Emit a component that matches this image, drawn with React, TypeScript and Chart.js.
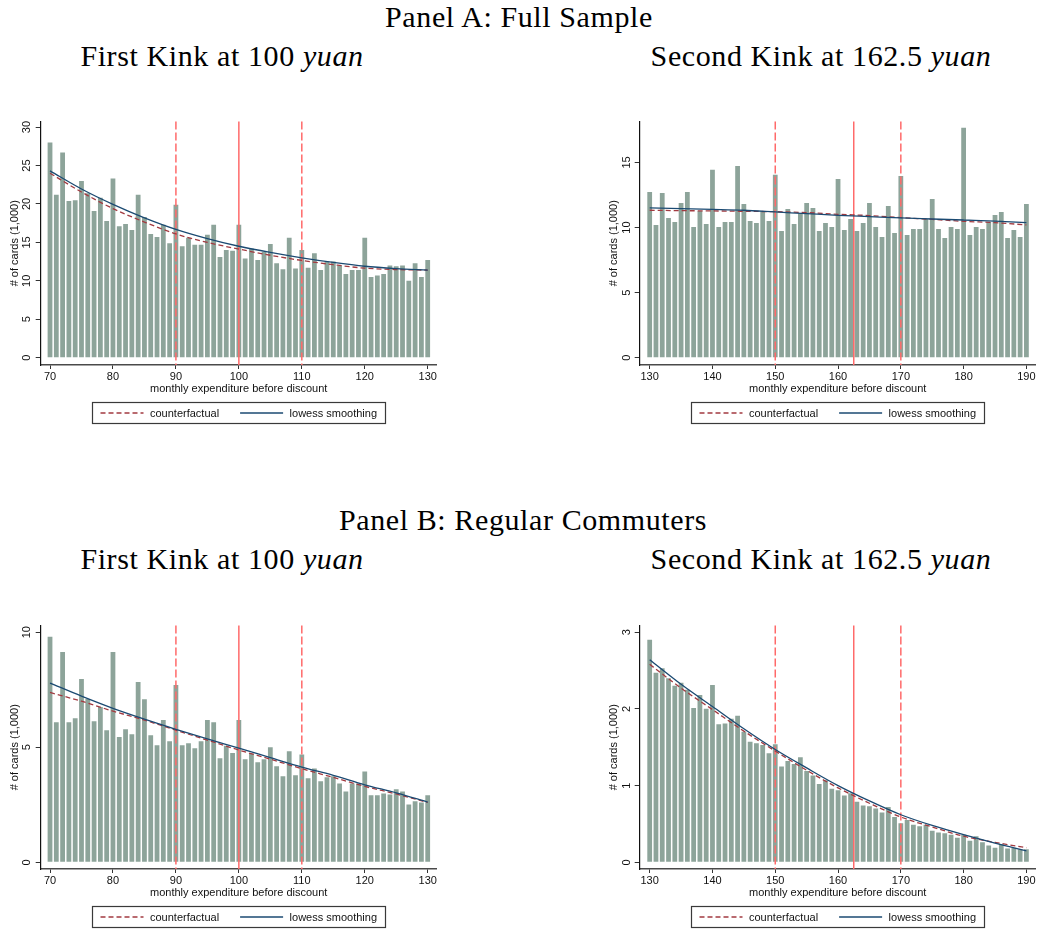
import React, { useEffect, useRef } from 'react';
import { Chart, registerables } from 'chart.js';

Chart.register(...registerables);

// ---- expenditure bins (yuan) ----
const firstKinkBins = [
  70, 71, 72, 73, 74, 75, 76, 77, 78, 79,
  80, 81, 82, 83, 84, 85, 86, 87, 88, 89,
  90, 91, 92, 93, 94, 95, 96, 97, 98, 99,
  100, 101, 102, 103, 104, 105, 106, 107, 108, 109,
  110, 111, 112, 113, 114, 115, 116, 117, 118, 119,
  120, 121, 122, 123, 124, 125, 126, 127, 128, 129,
  130,
];
const secondKinkBins = [
  130, 131, 132, 133, 134, 135, 136, 137, 138, 139,
  140, 141, 142, 143, 144, 145, 146, 147, 148, 149,
  150, 151, 152, 153, 154, 155, 156, 157, 158, 159,
  160, 161, 162, 163, 164, 165, 166, 167, 168, 169,
  170, 171, 172, 173, 174, 175, 176, 177, 178, 179,
  180, 181, 182, 183, 184, 185, 186, 187, 188, 189,
  190,
];

// ---- number of cards (1,000) per bin ----
const fullFirstCards = [
  28.0, 21.2, 26.7, 20.4, 20.5, 23.0, 21.4, 19.1, 20.8, 17.8,
  23.3, 17.1, 17.4, 16.6, 21.2, 18.3, 16.1, 15.7, 17.3, 14.9,
  19.9, 14.5, 15.6, 14.7, 14.7, 16.0, 17.3, 13.1, 14.0, 13.9,
  17.3, 12.9, 14.2, 12.7, 13.8, 14.8, 12.3, 11.5, 15.6, 11.6,
  14.0, 11.7, 13.6, 11.4, 12.5, 12.5, 12.0, 10.9, 11.4, 11.4,
  15.6, 10.5, 10.7, 10.9, 12.0, 11.9, 12.0, 10.0, 12.3, 10.5,
  12.7,
];
const fullSecondCards = [
  12.74, 10.2, 12.66, 10.74, 10.43, 11.89, 12.74, 10.04, 11.28, 10.27,
  14.44, 10.04, 10.43, 10.43, 14.74, 11.82, 10.51, 10.35, 11.25, 10.51,
  14.05, 9.74, 11.43, 10.27, 11.1, 11.89, 11.5, 9.74, 10.35, 10.04,
  13.74, 9.81, 10.66, 9.74, 10.35, 11.89, 10.04, 9.27, 11.66, 9.58,
  13.97, 9.43, 9.89, 9.89, 10.66, 12.2, 9.89, 9.2, 10.04, 9.89,
  17.67, 9.43, 10.04, 9.89, 10.43, 10.97, 11.2, 9.2, 9.81, 9.27,
  11.82,
];
const regularFirstCards = [
  9.8, 6.09, 9.14, 6.09, 6.26, 7.97, 7.1, 6.13, 6.75, 5.74,
  9.14, 5.44, 5.78, 5.57, 7.83, 7.09, 5.52, 5.09, 6.18, 5.26,
  7.7, 5.09, 5.17, 4.96, 5.26, 6.18, 6.09, 4.52, 5.06, 4.75,
  6.18, 4.48, 4.72, 4.35, 4.48, 5.0, 4.17, 3.74, 4.83, 3.78,
  4.69, 3.65, 4.08, 3.52, 3.7, 3.74, 3.43, 3.08, 3.43, 3.43,
  3.95, 2.91, 2.91, 2.99, 2.95, 3.17, 3.08, 2.51, 2.65, 2.6,
  2.91,
];
const regularSecondCards = [
  2.9, 2.47, 2.53, 2.4, 2.3, 2.34, 2.25, 2.01, 2.18, 2.0,
  2.31, 1.8, 1.81, 1.87, 1.91, 1.7, 1.57, 1.55, 1.53, 1.42,
  1.54, 1.25, 1.32, 1.28, 1.37, 1.19, 1.13, 1.02, 1.07, 0.96,
  0.94, 0.87, 0.9, 0.79, 0.74, 0.73, 0.7, 0.65, 0.72, 0.59,
  0.51, 0.55, 0.49, 0.47, 0.49, 0.41, 0.39, 0.38, 0.36, 0.32,
  0.36, 0.28, 0.34, 0.26, 0.22, 0.19, 0.24, 0.18, 0.19, 0.17,
  0.17,
];

// ---- fitted curves ----
const firstCurveX = [70, 75, 80, 85, 90, 95, 100, 105, 110, 115, 120, 125, 130];
const secondCurveX = [130, 135, 140, 145, 150, 155, 160, 165, 170, 175, 180, 185, 190];

const fullFirstLowess = [24.3, 21.95, 19.95, 18.2, 16.7, 15.5, 14.5, 13.7, 13.0, 12.4, 11.9, 11.6, 11.4];
const fullFirstCounterfactual = [24.0, 21.55, 19.4, 17.65, 16.1, 15.0, 14.13, 13.33, 12.65, 12.1, 11.65, 11.47, 11.4];
const fullSecondLowess = [11.51, 11.46, 11.4, 11.33, 11.2, 11.07, 10.94, 10.84, 10.74, 10.66, 10.58, 10.5, 10.38];
const fullSecondCounterfactual = [11.33, 11.3, 11.28, 11.25, 11.22, 11.15, 11.02, 10.92, 10.76, 10.63, 10.48, 10.38, 10.2];
const regularFirstLowess = [7.79, 7.22, 6.69, 6.22, 5.78, 5.36, 4.96, 4.55, 4.14, 3.78, 3.37, 3.02, 2.62];
const regularFirstCounterfactual = [7.38, 7.0, 6.57, 6.18, 5.74, 5.31, 4.88, 4.48, 4.07, 3.69, 3.3, 2.97, 2.6];
const regularSecondLowess = [2.64, 2.32, 2.03, 1.74, 1.47, 1.23, 1.0, 0.8, 0.62, 0.48, 0.36, 0.25, 0.15];
const regularSecondCounterfactual = [2.58, 2.27, 1.99, 1.71, 1.45, 1.2, 0.97, 0.77, 0.59, 0.46, 0.34, 0.26, 0.19];

// ---- kink markers ----
const firstKinkSolid = [100];
const firstKinkDashed = [90, 110];
const secondKinkSolid = [162.5];
const secondKinkDashed = [150, 170];

// ---- axis ticks ----
const firstXTicks = [70, 80, 90, 100, 110, 120, 130];
const secondXTicks = [130, 140, 150, 160, 170, 180, 190];
const fullFirstYTicks = [0, 5, 10, 15, 20, 25, 30];
const fullSecondYTicks = [0, 5, 10, 15];
const regularFirstYTicks = [0, 5, 10];
const regularSecondYTicks = [0, 1, 2, 3];

const BAR_COLOR = '#8DA49A';
const LOWESS_COLOR = '#1B4A72';
const CF_COLOR = '#A23A40';
const KINK_COLOR = '#FF6A6A';
const SANS = '"Liberation Sans", Arial, sans-serif';
const SERIF = '"Liberation Serif", "Times New Roman", serif';

Chart.defaults.font.family = SANS;
Chart.defaults.font.size = 11;
Chart.defaults.color = '#111';

const kinkLinePlugin = {
  id: 'kinkLines',
  afterDatasetDraw(chart: any, args: any, opts: any) {
    if (args.meta.type !== 'bar') return;
    const { ctx, chartArea } = chart;
    const xs = chart.scales.x;
    ctx.save();
    ctx.strokeStyle = opts.color;
    ctx.lineWidth = opts.width;
    const draw = (v: number, dash: number[]) => {
      const px = xs.getPixelForValue(v);
      ctx.setLineDash(dash);
      ctx.beginPath();
      ctx.moveTo(px, chartArea.top);
      ctx.lineTo(px, chartArea.bottom);
      ctx.stroke();
    };
    opts.dashed.forEach((v: number) => draw(v, opts.dash));
    opts.solid.forEach((v: number) => draw(v, []));
    ctx.restore();
  },
};

const boxedLegendPlugin = {
  id: 'boxedLegend',
  afterDraw(chart: any, _args: any, opts: any) {
    const { ctx, chartArea } = chart;
    const items = chart.data.datasets.filter((d: any) => d.type === 'line');
    ctx.save();
    ctx.font = `11px ${SANS}`;
    const widths = items.map((d: any) => ctx.measureText(d.label).width);
    const textTotal = widths.reduce((a: number, b: number) => a + b, 0);
    const total =
      opts.padX * 2 + items.length * (opts.sample + opts.gap) + (items.length - 1) * opts.itemGap + textTotal;
    const cx = (chartArea.left + chartArea.right) / 2;
    const left = Math.round(cx - total / 2) + 0.5;
    const top = Math.round(chartArea.bottom + opts.offsetY) + 0.5;
    ctx.strokeStyle = '#3a3a3a';
    ctx.lineWidth = 1.2;
    ctx.setLineDash([]);
    ctx.strokeRect(left, top, Math.round(total), opts.height);
    const cy = top + opts.height / 2;
    let x = left + opts.padX;
    items.forEach((d: any, i: number) => {
      ctx.strokeStyle = d.borderColor;
      ctx.lineWidth = d.borderWidth;
      ctx.setLineDash(d.borderDash || []);
      ctx.beginPath();
      ctx.moveTo(x, cy);
      ctx.lineTo(x + opts.sample, cy);
      ctx.stroke();
      x += opts.sample + opts.gap;
      ctx.fillStyle = '#111';
      ctx.textBaseline = 'middle';
      ctx.textAlign = 'left';
      ctx.fillText(d.label, x, cy + 0.5);
      x += widths[i] + opts.itemGap;
    });
    ctx.restore();
  },
};

type PanelProps = {
  left: number;
  top: number;
  bins: number[];
  cards: number[];
  curveX: number[];
  lowess: number[];
  counterfactual: number[];
  solidKinks: number[];
  dashedKinks: number[];
  xTicks: number[];
  yTicks: number[];
  xMin: number;
  xMax: number;
  yMin: number;
  yMax: number;
  yLabelPad: number;
};

function KinkPanel(p: PanelProps) {
  const ref = useRef<HTMLCanvasElement>(null);
  useEffect(() => {
    if (!ref.current) return;
    const chart = new Chart(ref.current, {
      type: 'bar',
      data: {
        datasets: [
          {
            type: 'bar',
            label: 'cards',
            data: p.bins.map((x, i) => ({ x, y: p.cards[i] })),
            backgroundColor: BAR_COLOR,
            borderWidth: 0,
            barPercentage: 0.76,
            categoryPercentage: 1,
            order: 3,
          },
          {
            type: 'line',
            label: 'counterfactual',
            data: p.curveX.map((x, i) => ({ x, y: p.counterfactual[i] })),
            borderColor: CF_COLOR,
            borderWidth: 1.3,
            borderDash: [5, 3],
            pointRadius: 0,
            cubicInterpolationMode: 'monotone',
            order: 2,
          },
          {
            type: 'line',
            label: 'lowess smoothing',
            data: p.curveX.map((x, i) => ({ x, y: p.lowess[i] })),
            borderColor: LOWESS_COLOR,
            borderWidth: 1.3,
            pointRadius: 0,
            cubicInterpolationMode: 'monotone',
            order: 1,
          },
        ],
      } as any,
      options: {
        animation: false,
        responsive: false,
        devicePixelRatio: 1,
        events: [],
        layout: { padding: { top: 11.5, right: 3.3, left: 0, bottom: 0 } },
        scales: {
          x: {
            type: 'linear',
            min: p.xMin,
            max: p.xMax,
            offset: false,
            afterBuildTicks: (s: any) => {
              s.ticks = p.xTicks.map((v) => ({ value: v }));
            },
            afterFit: (s: any) => {
              s.height = 65;
            },
            grid: { display: true, offset: false, drawOnChartArea: false, drawTicks: true, tickLength: 4, color: '#333' },
            border: { display: true, color: '#4a4a4a', width: 1.4 },
            ticks: { padding: 1, maxRotation: 0, minRotation: 0, color: '#111' },
            title: {
              display: true,
              text: 'monthly expenditure before discount',
              color: '#111',
              padding: { top: 0, bottom: 34.1 },
            },
          },
          y: {
            type: 'linear',
            min: p.yMin,
            max: p.yMax,
            afterBuildTicks: (s: any) => {
              s.ticks = p.yTicks.map((v) => ({ value: v }));
            },
            afterFit: (s: any) => {
              s.width = 40.7;
            },
            grid: { display: true, drawOnChartArea: false, drawTicks: true, tickLength: 5, color: '#333' },
            border: { display: true, color: '#111', width: 1.2 },
            ticks: { minRotation: 90, maxRotation: 90, crossAlign: 'center', padding: p.yLabelPad, color: '#111' },
            title: {
              display: true,
              text: '# of cards (1,000)',
              color: '#111',
              padding: { top: 8.4, bottom: 0 },
            },
          },
        },
        plugins: {
          legend: { display: false },
          tooltip: { enabled: false },
          kinkLines: { color: KINK_COLOR, width: 1.5, dash: [8, 3], solid: p.solidKinks, dashed: p.dashedKinks },
          boxedLegend: { padX: 8, sample: 43, gap: 6.5, itemGap: 21, offsetY: 37.3, height: 21 },
        } as any,
      } as any,
      plugins: [kinkLinePlugin, boxedLegendPlugin],
    });
    return () => chart.destroy();
  }, []);
  return (
    <canvas
      ref={ref}
      width={440}
      height={320}
      style={{ position: 'absolute', left: p.left, top: p.top, width: 440, height: 320 }}
    />
  );
}

function Heading({ cx, top, children }: { cx: number; top: number; children: React.ReactNode }) {
  return (
    <div
      style={{
        position: 'absolute',
        left: cx - 300,
        top,
        width: 600,
        textAlign: 'center',
        fontFamily: SERIF,
        fontSize: 30,
        letterSpacing: '0.6px',
        lineHeight: 1,
        whiteSpace: 'nowrap',
        color: '#000',
      }}
    >
      {children}
    </div>
  );
}

export default function App() {
  return (
    <div style={{ position: 'absolute', left: 0, top: 0, width: 1038, height: 930, background: '#fff', overflow: 'hidden' }}>
      <Heading cx={519} top={2}>Panel A: Full Sample</Heading>
      <Heading cx={222} top={41}>First Kink at 100 <i>yuan</i></Heading>
      <Heading cx={821} top={41}>Second Kink at 162.5 <i>yuan</i></Heading>

      <KinkPanel
        left={0}
        top={110}
        bins={firstKinkBins}
        cards={fullFirstCards}
        curveX={firstCurveX}
        lowess={fullFirstLowess}
        counterfactual={fullFirstCounterfactual}
        solidKinks={firstKinkSolid}
        dashedKinks={firstKinkDashed}
        xTicks={firstXTicks}
        yTicks={fullFirstYTicks}
        xMin={68.52}
        xMax={131.43}
        yMin={-0.95}
        yMax={30.73}
        yLabelPad={2.9}
      />
      <KinkPanel
        left={598.6}
        top={110}
        bins={secondKinkBins}
        cards={fullSecondCards}
        curveX={secondCurveX}
        lowess={fullSecondLowess}
        counterfactual={fullSecondCounterfactual}
        solidKinks={secondKinkSolid}
        dashedKinks={secondKinkDashed}
        xTicks={secondXTicks}
        yTicks={fullSecondYTicks}
        xMin={128.41}
        xMax={191.48}
        yMin={-0.56}
        yMax={18.15}
        yLabelPad={1.5}
      />

      <Heading cx={523} top={505}>Panel B: Regular Commuters</Heading>
      <Heading cx={222} top={544}>First Kink at 100 <i>yuan</i></Heading>
      <Heading cx={821} top={544}>Second Kink at 162.5 <i>yuan</i></Heading>

      <KinkPanel
        left={0}
        top={614}
        bins={firstKinkBins}
        cards={regularFirstCards}
        curveX={firstCurveX}
        lowess={regularFirstLowess}
        counterfactual={regularFirstCounterfactual}
        solidKinks={firstKinkSolid}
        dashedKinks={firstKinkDashed}
        xTicks={firstXTicks}
        yTicks={regularFirstYTicks}
        xMin={68.52}
        xMax={131.43}
        yMin={-0.29}
        yMax={10.29}
        yLabelPad={2.9}
      />
      <KinkPanel
        left={598.6}
        top={614}
        bins={secondKinkBins}
        cards={regularSecondCards}
        curveX={secondCurveX}
        lowess={regularSecondLowess}
        counterfactual={regularSecondCounterfactual}
        solidKinks={secondKinkSolid}
        dashedKinks={secondKinkDashed}
        xTicks={secondXTicks}
        yTicks={regularSecondYTicks}
        xMin={128.41}
        xMax={191.48}
        yMin={-0.087}
        yMax={3.086}
        yLabelPad={4.5}
      />
    </div>
  );
}
